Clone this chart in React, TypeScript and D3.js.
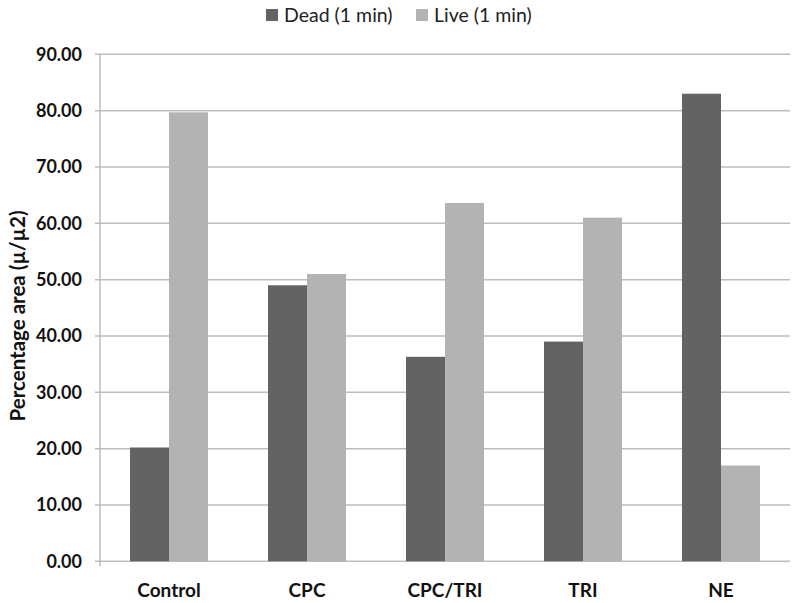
import React from "react";
import * as d3 from "d3";

const categories = ["Control", "CPC", "CPC/TRI", "TRI", "NE"];
const seriesNames = ["Dead (1 min)", "Live (1 min)"];
const deadValues = [20.2, 49.0, 36.3, 39.0, 83.0];
const liveValues = [79.7, 51.0, 63.6, 61.0, 17.0];
const yTicks = [0, 10, 20, 30, 40, 50, 60, 70, 80, 90];
const colors = ["#636363", "#b3b3b3"];

const W = 800;
const H = 603;
const font = "Lato, 'Open Sans', sans-serif";

export default function App() {
  const x = d3
    .scaleBand<string>()
    .domain(categories)
    .range([100, 790])
    .paddingInner(0)
    .paddingOuter(0);
  const y = d3.scaleLinear().domain([0, 90]).range([561.3, 54.3]);
  const barW = 39;
  const series = [deadValues, liveValues];

  return (
    <svg
      width={W}
      height={H}
      style={{ position: "absolute", left: 0, top: 0, background: "#fff" }}
    >
      <rect x={0} y={0} width={W} height={H} fill="#fff" />
      {yTicks.map((t) => (
        <g key={t}>
          <line
            x1={95}
            x2={790}
            y1={y(t)}
            y2={y(t)}
            stroke="#bdbdbd"
            strokeWidth={1.5}
          />
          <text
            x={82}
            y={y(t)}
            dy="0.35em"
            textAnchor="end"
            fontFamily={font}
            fontWeight="bold"
            fontSize={18}
            fill="#111"
          >
            {t.toFixed(2)}
          </text>
        </g>
      ))}
      <line
        x1={100}
        x2={100}
        y1={y(90)}
        y2={y(0) + 5}
        stroke="#bdbdbd"
        strokeWidth={1.5}
      />
      {categories.map((c, i) => {
        const cx = (x(c) as number) + x.bandwidth() / 2;
        return (
          <g key={c}>
            {series.map((vals, s) => (
              <rect
                key={s}
                x={cx - barW + s * barW}
                y={y(vals[i])}
                width={barW}
                height={y(0) - y(vals[i])}
                fill={colors[s]}
              />
            ))}
            <text
              x={cx}
              y={590}
              dy="0.35em"
              textAnchor="middle"
              fontFamily={font}
              fontWeight="bold"
              fontSize={19}
              fill="#111"
            >
              {c}
            </text>
          </g>
        );
      })}
      <text
        transform={`translate(18, 316) rotate(-90)`}
        textAnchor="middle"
        dy="0.35em"
        fontFamily={font}
        fontWeight="bold"
        fontSize={20.5}
        fill="#111"
      >
        Percentage area (µ/µ2)
      </text>
      {seriesNames.map((n, s) => {
        const lx = s === 0 ? 266 : 416;
        return (
          <g key={n}>
            <rect x={lx} y={9} width={12} height={12} fill={colors[s]} />
            <text
              x={lx + 18}
              y={15}
              dy="0.35em"
              fontFamily={font}
              fontSize={19.5}
              fill="#222"
            >
              {n}
            </text>
          </g>
        );
      })}
    </svg>
  );
}
